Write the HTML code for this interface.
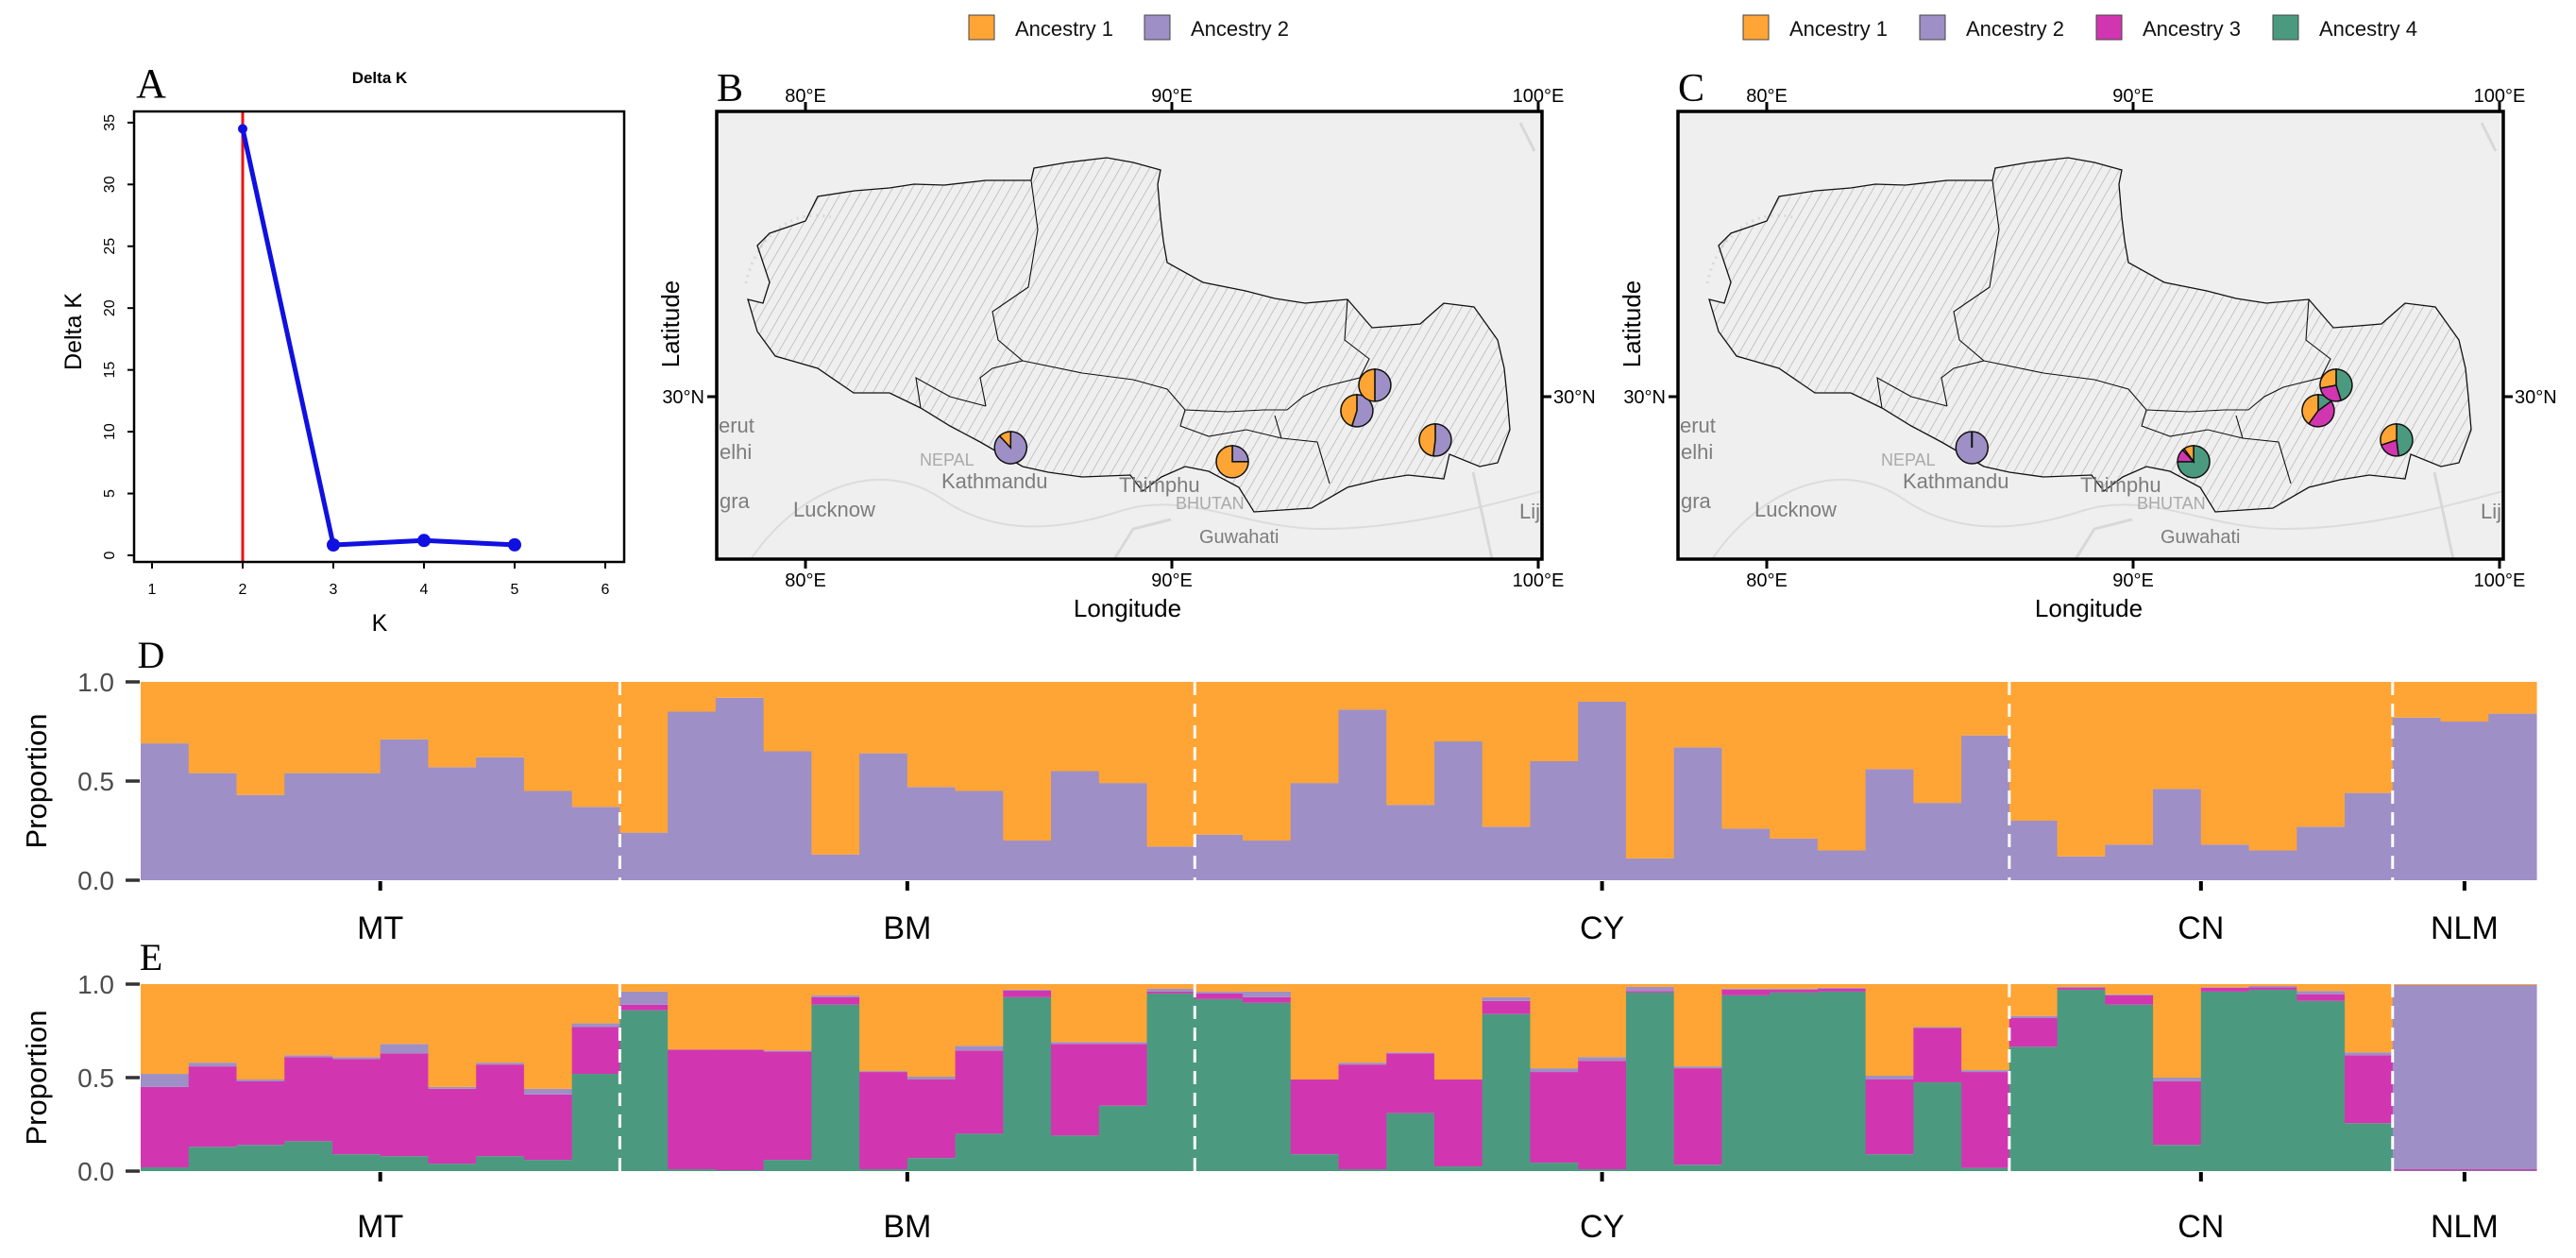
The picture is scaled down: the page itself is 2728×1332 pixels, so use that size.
<!DOCTYPE html>
<html><head><meta charset="utf-8"><style>
html,body{margin:0;padding:0;background:#fff}
svg{display:block;font-family:"Liberation Sans",sans-serif}
</style></head><body>
<svg id="fig" width="2728" height="1332" viewBox="0 0 2728 1332" xmlns="http://www.w3.org/2000/svg">
<defs>
<pattern id="hatch" width="9" height="9" patternUnits="userSpaceOnUse" patternTransform="rotate(30)">
<line x1="0" y1="0" x2="0" y2="9" stroke="#a8a8a8" stroke-width="1.2"/>
</pattern>
<clipPath id="clipB"><rect x="759" y="118" width="874" height="474"/></clipPath>
</defs>
<g id="root"></g>
</svg>
<script>
// ---------- Panel A data ----------
const kValues=[2,3,4,5];
const deltaK=[34.5,0.84,1.2,0.85];
const kTicks=[1,2,3,4,5,6];
const dkTicks=[0,5,10,15,20,25,30,35];
const bestK=2;

// ---------- Panel D data (K=2) ----------
const groups=["MT","BM","CY","CN","NLM"];
const groupSizes=[10,12,17,8,3];
const d_anc2=[0.69,0.54,0.43,0.54,0.54,0.71,0.57,0.62,0.45,0.37,
0.24,0.85,0.92,0.65,0.13,0.64,0.47,0.45,0.20,0.55,0.49,0.17,
0.23,0.20,0.49,0.86,0.38,0.70,0.27,0.60,0.90,0.11,0.67,0.26,0.21,0.15,0.56,0.39,0.73,
0.30,0.12,0.18,0.46,0.18,0.15,0.27,0.44,
0.82,0.80,0.84];

// ---------- Panel E data (K=4) ----------
const e_anc4=[0.02,0.13,0.14,0.16,0.09,0.08,0.04,0.08,0.06,0.52,
0.86,0.01,0.005,0.06,0.89,0.01,0.07,0.20,0.93,0.19,0.35,0.95,
0.92,0.90,0.09,0.01,0.31,0.025,0.84,0.045,0.01,0.955,0.034,0.94,0.955,0.96,0.09,0.475,0.017,
0.665,0.97,0.89,0.14,0.96,0.97,0.91,0.256,
0.003,0.003,0.003];
const e_anc3=[0.43,0.43,0.34,0.45,0.51,0.55,0.40,0.49,0.35,0.25,
0.03,0.64,0.645,0.58,0.04,0.52,0.42,0.445,0.035,0.49,0.33,0.01,
0.03,0.03,0.40,0.56,0.32,0.465,0.07,0.485,0.58,0.008,0.516,0.03,0.015,0.015,0.40,0.29,0.513,
0.155,0.01,0.05,0.34,0.02,0.013,0.036,0.364,
0.007,0.007,0.007];
const e_anc2=[0.07,0.02,0.01,0.01,0.01,0.05,0.01,0.01,0.03,0.02,
0.07,0.0,0.0,0.005,0.01,0.005,0.015,0.025,0.005,0.01,0.01,0.015,
0.01,0.03,0.0,0.01,0.005,0.0,0.02,0.02,0.02,0.022,0.01,0.005,0.005,0.005,0.02,0.005,0.01,
0.01,0.005,0.005,0.02,0.003,0.007,0.017,0.015,
0.985,0.985,0.985];

// ---------- Map pie data ----------
const siteLon=[85.6,91.65,95.05,95.54,97.19];
const siteLat=[28.8,28.47,29.67,30.27,28.98];
const pieB_anc1=[0.12,0.75,0.45,0.50,0.48];
const pieB_anc2=[0.88,0.25,0.55,0.50,0.52];
const pieC_anc1=[0.0,0.10,0.40,0.28,0.30];
const pieC_anc2=[1.0,0.02,0.0,0.0,0.0];
const pieC_anc3=[0.0,0.13,0.45,0.27,0.22];
const pieC_anc4=[0.0,0.75,0.15,0.45,0.48];
const lonTicks=[80,90,100];

const C={o:"#ffa535",p:"#9e8fc6",m:"#d136b0",g:"#4b9a80"};
const NS="http://www.w3.org/2000/svg";
const root=document.getElementById('root');
function mk(tag,attrs,parent,text){const e=document.createElementNS(NS,tag);for(const k in attrs)e.setAttribute(k,attrs[k]);if(text!==undefined)e.textContent=text;(parent||root).appendChild(e);return e;}

// ================= Panel A =================
const A={l:142,r:661,t:118,b:595};
const ax=k=>161+(k-1)*96;
const ay=v=>588-v*13.09;
let gA=mk('g',{});

let t=mk('text',{x:160,y:103,'font-family':'Liberation Serif,serif','font-size':44,'text-anchor':'middle'},gA,'A');

t=mk('text',{x:402,y:88,'font-size':17,'font-weight':'bold','text-anchor':'middle'},gA,'Delta K');

let line=mk('line',{x1:ax(bestK),x2:ax(bestK),y1:A.t,y2:A.b,stroke:'#ee1111','stroke-width':3},gA);

let pts=kValues.map((k,i)=>ax(k)+','+ay(deltaK[i])).join(' ');
let pl=mk('polyline',{points:pts,fill:'none',stroke:'#1010e0','stroke-width':5,'stroke-linejoin':'round'},gA);

kValues.forEach((k,i)=>{const c=mk('circle',{cx:ax(k),cy:ay(deltaK[i]),r:i==0?5:7,fill:'#1010e0'},gA);
});
let box=mk('rect',{x:A.l,y:A.t,width:A.r-A.l,height:A.b-A.t,fill:'none',stroke:'#000','stroke-width':2.5},gA);

kTicks.forEach(k=>{mk('line',{x1:ax(k),x2:ax(k),y1:A.b,y2:A.b+7,stroke:'#000','stroke-width':2},gA);
const tt=mk('text',{x:ax(k),y:629,'font-size':16,'text-anchor':'middle'},gA,String(k));
});
mk('line',{x1:ax(1),x2:ax(6),y1:A.b,y2:A.b,stroke:'#000','stroke-width':2},gA);
dkTicks.forEach(v=>{mk('line',{x1:A.l,x2:A.l-7,y1:ay(v),y2:ay(v),stroke:'#000','stroke-width':2},gA);
const tt=mk('text',{x:0,y:0,'font-size':16,'text-anchor':'middle',transform:`translate(121,${ay(v)}) rotate(-90)`},gA,String(v));
});
t=mk('text',{x:402,y:668,'font-size':25,'text-anchor':'middle'},gA,'K');

t=mk('text',{x:0,y:0,'font-size':25,'text-anchor':'middle',transform:'translate(86,351) rotate(-90)'},gA,'Delta K');


// ================= Maps =================
const outline="M802,260 L815,247 L853,234 L866,208 L905,202 L942,199 L968,195 L1000,196 L1044,191 L1092,191 L1095,178 L1130,172 L1172,167 L1200,172 L1229,180 L1226,195 L1229,230 L1232,255 L1236,278 L1274,299 L1319,308 L1350,316 L1382,321 L1427,317 L1453,347 L1480,345 L1504,343 L1529,321 L1561,325 L1586,360 L1593,390 L1596,420 L1599,455 L1586,490 L1567,494 L1535,481 L1529,507 L1491,503 L1460,508 L1427,516 L1389,538 L1328,542 L1312,516 L1280,499 L1255,494 L1230,505 L1210,520 L1197,503 L1146,505 L1110,500 L1083,494 L1038,468 L1006,451 L975,432 L942,416 L904,416 L866,390 L821,377 L802,351 L792,317 L808,321 L815,299 Z";
const inner=["M1092,191 L1099,243 L1089,304 L1051,330 L1057,360 L1083,382 L1051,390 L1038,400 L1044,430",
"M1083,382 L1146,395 L1200,402 L1236,412 L1255,434 L1300,436 L1338,434 L1363,434",
"M1427,317 L1424,360 L1450,380 L1440,400 L1400,410 L1380,420 L1363,434",
"M1255,434 L1250,451 L1280,462 L1320,455 L1357,464 L1395,468 L1408,512",
"M1044,430 L1006,420 L970,400 L975,432",
"M1357,464 L1350,440"];
const cities=[["erut",761,458,22],["elhi",762,486,22],["gra",762,538,22],["Lucknow",840,547,22],["NEPAL",974,493,18],["Kathmandu",997,517,22],["Thimphu",1185,521,22],["BHUTAN",1245,539,18],["Guwahati",1270,575,20],["Lij",1609,549,22]];
const mlx=lon=>853+(lon-80)*38.8;
const mly=lat=>420-(lat-30)*45;
function drawMap(off,label,name){
  const g=mk('g',{transform:`translate(${off},0)`});
  
  const bg=mk('rect',{x:759,y:118,width:874,height:474,fill:'#efefef'},g);
  
  const cg=mk('g',{'clip-path':'url(#clipB)'},g);
  mk('path',{d:"M790,600 C840,520 930,480 1000,530 C1060,570 1130,560 1190,540 C1260,520 1320,560 1400,560 C1480,560 1560,540 1633,520",fill:'none',stroke:'#dcdcdc','stroke-width':2},cg);
  mk('path',{d:"M1180,592 L1200,560 L1240,550 M1560,500 L1580,592 M1610,130 L1625,160",fill:'none',stroke:'#d8d8d8','stroke-width':3},cg);
  mk('path',{d:"M790,300 C800,250 840,220 880,230",fill:'none',stroke:'#d9d9d9','stroke-width':3,'stroke-dasharray':'2 5'},cg);
  const poly=mk('path',{d:outline,fill:'url(#hatch)',stroke:'#111','stroke-width':1.3},cg);
  
  inner.forEach(d=>{const p=mk('path',{d:d,fill:'none',stroke:'#111','stroke-width':1.1},cg);
    });
  cities.forEach(c=>{const tt=mk('text',{x:c[1],y:c[2],'font-size':c[3],fill:c[0]=='NEPAL'||c[0]=='BHUTAN'?'#a9a9a9':'#7d7d7d'},cg,c[0]);
    });
  const fr=mk('rect',{x:759,y:118,width:874,height:474,fill:'none',stroke:'#000','stroke-width':3.5},g);
  
  lonTicks.forEach(l=>{const x=mlx(l);
    mk('line',{x1:x,x2:x,y1:118,y2:108,stroke:'#000','stroke-width':3},g);
    mk('line',{x1:x,x2:x,y1:592,y2:602,stroke:'#000','stroke-width':3},g);
    let a=mk('text',{x:x,y:108,'font-size':20,'text-anchor':'middle'},g,l+'°E');
    
    a=mk('text',{x:x,y:621,'font-size':20,'text-anchor':'middle'},g,l+'°E');
    });
  mk('line',{x1:759,x2:749,y1:mly(30),y2:mly(30),stroke:'#000','stroke-width':3},g);
  mk('line',{x1:1633,x2:1643,y1:mly(30),y2:mly(30),stroke:'#000','stroke-width':3},g);
  let a=mk('text',{x:746,y:mly(30)+7,'font-size':20,'text-anchor':'end'},g,'30°N');
  
  a=mk('text',{x:1645,y:mly(30)+7,'font-size':20},g,'30°N');
  
  a=mk('text',{x:1194,y:653,'font-size':26,'text-anchor':'middle'},g,'Longitude');
  
  a=mk('text',{x:0,y:0,'font-size':26,'text-anchor':'middle',transform:'translate(719,343) rotate(-90)'},g,'Latitude');
  
  a=mk('text',{x:773,y:107,'font-family':'Liberation Serif,serif','font-size':42,'text-anchor':'middle'},g,label);
  
  return g;
}
function pie(g,cx,cy,r,fracs,cols){
  const pg=mk('g',{},g);
  
  let ang=0;const tot=fracs.reduce((a,b)=>a+b,0);
  fracs.forEach((f,i)=>{if(f<=0)return;const a0=ang,a1=ang+f/tot*2*Math.PI;ang=a1;
    let el;
    if(f/tot>0.999){el=mk('circle',{cx:cx,cy:cy,r:r,fill:cols[i],stroke:'#111','stroke-width':1.5},pg);
      mk('line',{x1:cx,y1:cy,x2:cx,y2:cy-r,stroke:'#111','stroke-width':2},pg);}
    else{const x0=cx+r*Math.sin(a0),y0=cy-r*Math.cos(a0),x1=cx+r*Math.sin(a1),y1=cy-r*Math.cos(a1);
      el=mk('path',{d:`M${cx},${cy} L${x0},${y0} A${r},${r} 0 ${a1-a0>Math.PI?1:0} 1 ${x1},${y1} Z`,fill:cols[i],stroke:'#111','stroke-width':1.5},pg);}
    });
}
const gB=drawMap(0,'B','map-k2');
siteLon.forEach((lon,i)=>pie(gB,mlx(lon),mly(siteLat[i]),17,[pieB_anc2[i],pieB_anc1[i]],[C.p,C.o]));
const gC=drawMap(1018,'C','map-k4');
siteLon.forEach((lon,i)=>pie(gC,mlx(lon),mly(siteLat[i]),17,[pieC_anc4[i],pieC_anc3[i],pieC_anc2[i],pieC_anc1[i]],[C.g,C.m,C.p,C.o]));

// legends
function legend(items,x0,step,name){
  const g=mk('g',{});
  items.forEach((it,i)=>{const x=x0+i*step;
    const r=mk('rect',{x:x,y:16,width:27,height:26,fill:it[1],stroke:'#444','stroke-width':1},g);
    
    const tt=mk('text',{x:x+49,y:38,'font-size':22,fill:'#111'},g,it[0]);
    });
}
legend([["Ancestry 1",C.o],["Ancestry 2",C.p]],1026,186,'legend-k2');
legend([["Ancestry 1",C.o],["Ancestry 2",C.p],["Ancestry 3",C.m],["Ancestry 4",C.g]],1846,187,'legend-k4');

// ================= Bar panels =================
const N=d_anc2.length;
const BL=149,BR=2686;
const bx=i=>BL+i*(BR-BL)/N;
const bw=(BR-BL)/N;
function barPanel(top,bot,stacks,letter,labelY,name){
  const g=mk('g',{});
  const by=v=>bot-v*(bot-top);
  for(let i=0;i<N;i++){
    let cum=0;
    stacks.forEach(s=>{const v=s.vals[i];if(v<=0){return;}
      const r=mk('rect',{x:bx(i),y:by(cum+v),width:bw+0.6,height:by(cum)-by(cum+v),fill:s.col},g);
      
      cum+=v;});
    const r=mk('rect',{x:bx(i),y:top,width:bw+0.6,height:by(cum)-top,fill:C.o},g);
    
  }
  let idx=0;
  groupSizes.forEach((n,gi)=>{
    if(gi>0){const x=bx(idx);const d=mk('line',{x1:x,x2:x,y1:top,y2:bot,stroke:'#fff','stroke-width':3,'stroke-dasharray':'14 9'},g);
      }
    const cx=bx(idx+n/2);
    mk('line',{x1:cx,x2:cx,y1:bot+1,y2:bot+11,stroke:'#000','stroke-width':4},g);
    const tt=mk('text',{x:cx,y:labelY,'font-size':34,'text-anchor':'middle'},g,groups[gi]);
    
    idx+=n;});
  [0,0.5,1].forEach(v=>{mk('line',{x1:133,x2:148,y1:by(v),y2:by(v),stroke:'#333','stroke-width':3.5},g);
    const tt=mk('text',{x:121,y:by(v)+10,'font-size':28,'text-anchor':'end',fill:'#4d4d4d'},g,v.toFixed(1));
    });
  let tt=mk('text',{x:0,y:0,'font-size':31,'text-anchor':'middle',transform:`translate(49,${(top+bot)/2}) rotate(-90)`},g,'Proportion');
  
  tt=mk('text',{x:160,y:top-15,'font-family':'Liberation Serif,serif','font-size':40,'text-anchor':'middle'},g,letter);
  
}
barPanel(722,932,[{vals:d_anc2,col:C.p}],'D',994,'admixture-k2');
barPanel(1042,1240,[{vals:e_anc4,col:C.g},{vals:e_anc3,col:C.m},{vals:e_anc2,col:C.p}],'E',1310,'admixture-k4');
</script>
</body></html>
